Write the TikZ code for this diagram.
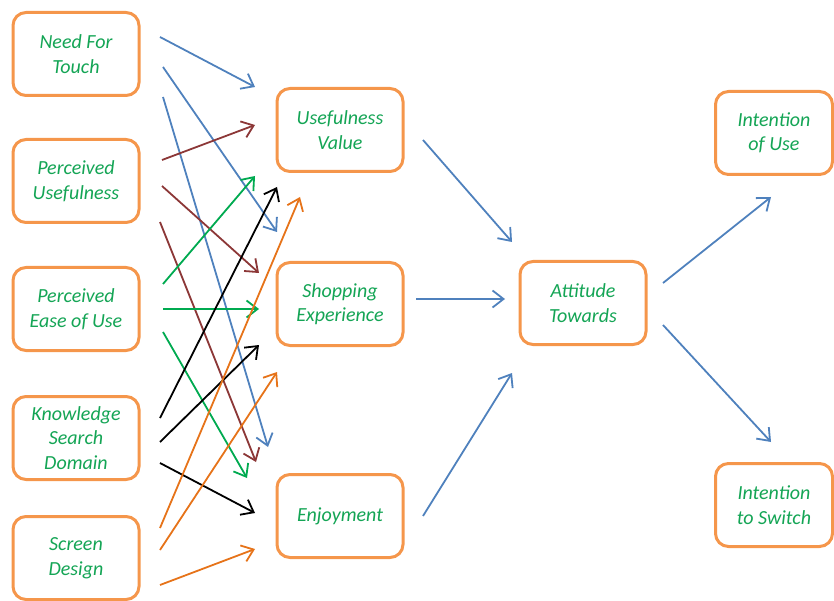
\documentclass[tikz,border=0pt]{standalone}
\usepackage{fontspec}
\setmainfont{Carlito}
\usetikzlibrary{arrows.meta}
\definecolor{boxorange}{RGB}{245,150,75}
\definecolor{txtgreen}{RGB}{20,165,85}
\definecolor{arblue}{RGB}{79,129,189}
\definecolor{arbrown}{RGB}{140,55,55}
\definecolor{argreen}{RGB}{0,170,80}
\definecolor{arorange}{RGB}{230,115,25}
\tikzset{
  box/.style={draw=boxorange, line width=3pt, rounded corners=13pt, fill=white,
    minimum width=126pt, minimum height=83pt, align=center, inner sep=2pt,
    text=txtgreen, font=\fontsize{20}{24.5}\selectfont\itshape},
  conn/.style={line width=1.8pt, -{Straight Barb[length=11pt,width=17pt]}},
  cblue/.style={conn, draw=arblue},
  cbrown/.style={conn, draw=arbrown},
  cgreen/.style={conn, draw=argreen},
  cblack/.style={conn, draw=black},
  corange/.style={conn, draw=arorange},
}
\begin{document}
\begin{tikzpicture}[x=1pt,y=-1pt]
\useasboundingbox (0,0) rectangle (834,601);
% nodes
\node[box] (nft) at (76,54) {Need For\\Touch};
\node[box] (pu)  at (76,181) {Perceived\\Usefulness};
\node[box] (peu) at (76,309) {Perceived\\Ease of Use};
\node[box] (ksd) at (76,438) {Knowledge\\Search\\Domain};
\node[box] (sd)  at (76,558) {Screen\\Design};
\node[box] (uv)  at (340,130) {Usefulness\\Value};
\node[box] (se)  at (340,304) {Shopping\\Experience};
\node[box] (en)  at (340,516) {Enjoyment};
\node[box] (at)  at (583,303) {Attitude\\Towards};
\node[box, minimum width=117pt] (iu)  at (774,133) {Intention\\of Use};
\node[box, minimum width=117pt] (is)  at (774,505) {Intention\\to Switch};
% connector end points
\coordinate (b1s) at (160,37);  \coordinate (b1e) at (255,87);
\coordinate (b2s) at (163,67);  \coordinate (b2e) at (277,232);
\coordinate (b3s) at (163,97);  \coordinate (b3e) at (268,447);
\coordinate (r1s) at (162,160); \coordinate (r1e) at (255,125);
\coordinate (r2s) at (162,186); \coordinate (r2e) at (259,273);
\coordinate (r3s) at (160,222); \coordinate (r3e) at (256,462);
\coordinate (g1s) at (163,284); \coordinate (g1e) at (255,176);
\coordinate (g2s) at (163,309); \coordinate (g2e) at (259,309);
\coordinate (g3s) at (163,332); \coordinate (g3e) at (247,478);
\coordinate (k1s) at (160,418); \coordinate (k1e) at (277,187);
\coordinate (k2s) at (160,442); \coordinate (k2e) at (259,345);
\coordinate (k3s) at (160,463); \coordinate (k3e) at (255,513);
\coordinate (o1s) at (160,528); \coordinate (o1e) at (300,197);
\coordinate (o2s) at (160,550); \coordinate (o2e) at (277,372);
\coordinate (o3s) at (160,585); \coordinate (o3e) at (255,549);
\coordinate (m1s) at (423,140); \coordinate (m1e) at (512,242);
\coordinate (m2s) at (416,299); \coordinate (m2e) at (505,299);
\coordinate (m3s) at (423,516); \coordinate (m3e) at (512,373);
\coordinate (a1s) at (663,283); \coordinate (a1e) at (771,197);
\coordinate (a2s) at (663,325); \coordinate (a2e) at (771,442);
% connectors
\draw[cblue] (b1s) -- (b1e);
\draw[cblue] (b2s) -- (b2e);
\draw[cblue] (b3s) -- (b3e);
\draw[cbrown] (r1s) -- (r1e);
\draw[cbrown] (r2s) -- (r2e);
\draw[cbrown] (r3s) -- (r3e);
\draw[cgreen] (g1s) -- (g1e);
\draw[cgreen] (g2s) -- (g2e);
\draw[cgreen] (g3s) -- (g3e);
\draw[cblack] (k1s) -- (k1e);
\draw[cblack] (k2s) -- (k2e);
\draw[cblack] (k3s) -- (k3e);
\draw[corange] (o1s) -- (o1e);
\draw[corange] (o2s) -- (o2e);
\draw[corange] (o3s) -- (o3e);
\draw[cblue] (m1s) -- (m1e);
\draw[cblue] (m2s) -- (m2e);
\draw[cblue] (m3s) -- (m3e);
\draw[cblue] (a1s) -- (a1e);
\draw[cblue] (a2s) -- (a2e);
\end{tikzpicture}
\end{document}
